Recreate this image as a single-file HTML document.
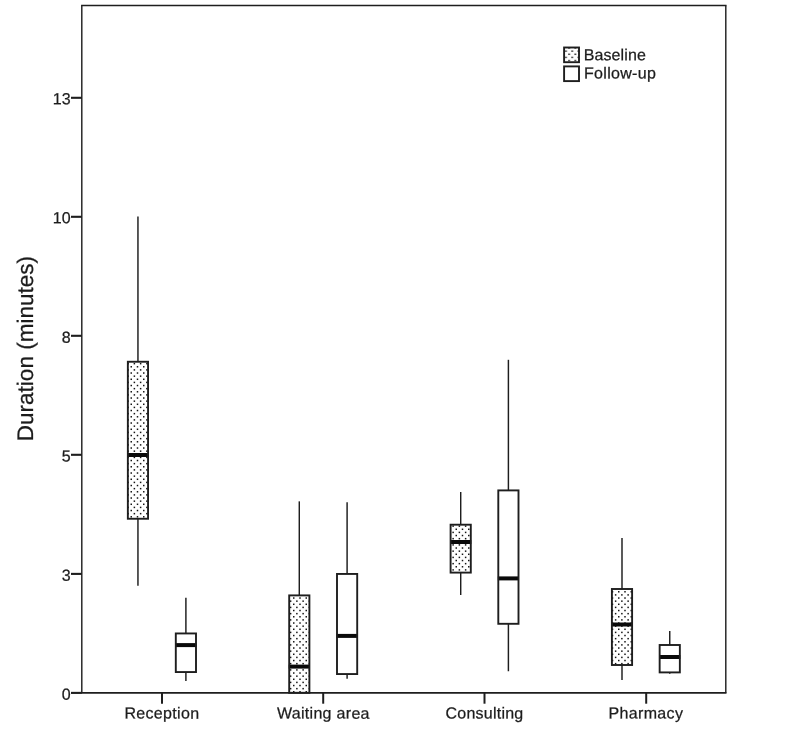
<!DOCTYPE html>
<html lang="en">
<head>
<meta charset="utf-8">
<title>Duration (minutes) by station: Baseline vs Follow-up</title>
<style>
html,body{margin:0;padding:0;background:#fff;}
body{width:800px;height:736px;overflow:hidden;}
svg{display:block;}
text{font-family:"Liberation Sans",sans-serif;fill:#1c1c1c;stroke:#1c1c1c;stroke-width:0.25px;text-rendering:geometricPrecision;}
</style>
</head>
<body>
<svg width="800" height="736" viewBox="0 0 800 736">
<defs>
<pattern id="dots" x="0" y="0" width="25" height="25" patternUnits="userSpaceOnUse">
<g fill="#151515"><rect x="-0.750" y="3.530" width="1.5" height="1.5"/><rect x="2.375" y="0.405" width="1.5" height="1.5"/><rect x="-0.750" y="9.780" width="1.5" height="1.5"/><rect x="2.375" y="6.655" width="1.5" height="1.5"/><rect x="-0.750" y="16.030" width="1.5" height="1.5"/><rect x="2.375" y="12.905" width="1.5" height="1.5"/><rect x="-0.750" y="22.280" width="1.5" height="1.5"/><rect x="2.375" y="19.155" width="1.5" height="1.5"/><rect x="5.500" y="3.530" width="1.5" height="1.5"/><rect x="8.625" y="0.405" width="1.5" height="1.5"/><rect x="5.500" y="9.780" width="1.5" height="1.5"/><rect x="8.625" y="6.655" width="1.5" height="1.5"/><rect x="5.500" y="16.030" width="1.5" height="1.5"/><rect x="8.625" y="12.905" width="1.5" height="1.5"/><rect x="5.500" y="22.280" width="1.5" height="1.5"/><rect x="8.625" y="19.155" width="1.5" height="1.5"/><rect x="11.750" y="3.530" width="1.5" height="1.5"/><rect x="14.875" y="0.405" width="1.5" height="1.5"/><rect x="11.750" y="9.780" width="1.5" height="1.5"/><rect x="14.875" y="6.655" width="1.5" height="1.5"/><rect x="11.750" y="16.030" width="1.5" height="1.5"/><rect x="14.875" y="12.905" width="1.5" height="1.5"/><rect x="11.750" y="22.280" width="1.5" height="1.5"/><rect x="14.875" y="19.155" width="1.5" height="1.5"/><rect x="18.000" y="3.530" width="1.5" height="1.5"/><rect x="21.125" y="0.405" width="1.5" height="1.5"/><rect x="18.000" y="9.780" width="1.5" height="1.5"/><rect x="21.125" y="6.655" width="1.5" height="1.5"/><rect x="18.000" y="16.030" width="1.5" height="1.5"/><rect x="21.125" y="12.905" width="1.5" height="1.5"/><rect x="18.000" y="22.280" width="1.5" height="1.5"/><rect x="21.125" y="19.155" width="1.5" height="1.5"/><rect x="24.250" y="3.530" width="1.5" height="1.5"/><rect x="24.250" y="9.780" width="1.5" height="1.5"/><rect x="24.250" y="16.030" width="1.5" height="1.5"/><rect x="24.250" y="22.280" width="1.5" height="1.5"/></g>
</pattern>
<pattern id="dotsL" x="0.35" y="0" width="25" height="25" patternUnits="userSpaceOnUse">
<g fill="#151515"><rect x="-0.750" y="3.530" width="1.5" height="1.5"/><rect x="2.375" y="0.405" width="1.5" height="1.5"/><rect x="-0.750" y="9.780" width="1.5" height="1.5"/><rect x="2.375" y="6.655" width="1.5" height="1.5"/><rect x="-0.750" y="16.030" width="1.5" height="1.5"/><rect x="2.375" y="12.905" width="1.5" height="1.5"/><rect x="-0.750" y="22.280" width="1.5" height="1.5"/><rect x="2.375" y="19.155" width="1.5" height="1.5"/><rect x="5.500" y="3.530" width="1.5" height="1.5"/><rect x="8.625" y="0.405" width="1.5" height="1.5"/><rect x="5.500" y="9.780" width="1.5" height="1.5"/><rect x="8.625" y="6.655" width="1.5" height="1.5"/><rect x="5.500" y="16.030" width="1.5" height="1.5"/><rect x="8.625" y="12.905" width="1.5" height="1.5"/><rect x="5.500" y="22.280" width="1.5" height="1.5"/><rect x="8.625" y="19.155" width="1.5" height="1.5"/><rect x="11.750" y="3.530" width="1.5" height="1.5"/><rect x="14.875" y="0.405" width="1.5" height="1.5"/><rect x="11.750" y="9.780" width="1.5" height="1.5"/><rect x="14.875" y="6.655" width="1.5" height="1.5"/><rect x="11.750" y="16.030" width="1.5" height="1.5"/><rect x="14.875" y="12.905" width="1.5" height="1.5"/><rect x="11.750" y="22.280" width="1.5" height="1.5"/><rect x="14.875" y="19.155" width="1.5" height="1.5"/><rect x="18.000" y="3.530" width="1.5" height="1.5"/><rect x="21.125" y="0.405" width="1.5" height="1.5"/><rect x="18.000" y="9.780" width="1.5" height="1.5"/><rect x="21.125" y="6.655" width="1.5" height="1.5"/><rect x="18.000" y="16.030" width="1.5" height="1.5"/><rect x="21.125" y="12.905" width="1.5" height="1.5"/><rect x="18.000" y="22.280" width="1.5" height="1.5"/><rect x="21.125" y="19.155" width="1.5" height="1.5"/><rect x="24.250" y="3.530" width="1.5" height="1.5"/><rect x="24.250" y="9.780" width="1.5" height="1.5"/><rect x="24.250" y="16.030" width="1.5" height="1.5"/><rect x="24.250" y="22.280" width="1.5" height="1.5"/></g>
</pattern>
</defs>
<rect x="0" y="0" width="800" height="736" fill="#ffffff"/>
<path d="M81.1 5.54H726.5M81.1 692.86H726.5" fill="none" stroke="#1e1e1e" stroke-width="1.62"/>
<path d="M81.8 5.54V692.86M725.8 5.54V692.86" fill="none" stroke="#1e1e1e" stroke-width="1.42"/>
<line x1="71" y1="692.9" x2="81.8" y2="692.9" stroke="#1e1e1e" stroke-width="2.1"/>
<text transform="translate(70.6,699.71) rotate(0.06)" font-size="16" text-anchor="end">0</text>
<line x1="71" y1="573.9" x2="81.8" y2="573.9" stroke="#1e1e1e" stroke-width="2.1"/>
<text transform="translate(70.6,580.70) rotate(0.06)" font-size="16" text-anchor="end">3</text>
<line x1="71" y1="454.8" x2="81.8" y2="454.8" stroke="#1e1e1e" stroke-width="2.1"/>
<text transform="translate(70.6,461.44) rotate(0.06)" font-size="16" text-anchor="end">5</text>
<line x1="71" y1="335.8" x2="81.8" y2="335.8" stroke="#1e1e1e" stroke-width="2.1"/>
<text transform="translate(70.6,342.68) rotate(0.06)" font-size="16" text-anchor="end">8</text>
<line x1="71" y1="216.8" x2="81.8" y2="216.8" stroke="#1e1e1e" stroke-width="2.1"/>
<text transform="translate(70.6,223.27) rotate(0.06)" font-size="16" text-anchor="end">10</text>
<line x1="71" y1="97.8" x2="81.8" y2="97.8" stroke="#1e1e1e" stroke-width="2.1"/>
<text transform="translate(70.6,104.21) rotate(0.06)" font-size="16" text-anchor="end">13</text>
<line x1="162.0" y1="692.86" x2="162.0" y2="703.7" stroke="#1e1e1e" stroke-width="2"/>
<text transform="translate(161.91,718.6) rotate(0.06)" font-size="16" letter-spacing="0.32" text-anchor="middle">Reception</text>
<line x1="323.2" y1="692.86" x2="323.2" y2="703.7" stroke="#1e1e1e" stroke-width="2"/>
<text transform="translate(323.35,718.6) rotate(0.06)" font-size="16" letter-spacing="0.31" text-anchor="middle">Waiting area</text>
<line x1="484.5" y1="692.86" x2="484.5" y2="703.7" stroke="#1e1e1e" stroke-width="2"/>
<text transform="translate(484.51,718.6) rotate(0.06)" font-size="16" letter-spacing="0.23" text-anchor="middle">Consulting</text>
<line x1="646.2" y1="692.86" x2="646.2" y2="703.7" stroke="#1e1e1e" stroke-width="2"/>
<text transform="translate(645.91,718.6) rotate(0.06)" font-size="16" letter-spacing="0.33" text-anchor="middle">Pharmacy</text>
<text transform="translate(33.3,348.6) rotate(-90)" font-size="22.5" letter-spacing="0.01" text-anchor="middle">Duration (minutes)</text>
<line x1="137.95" y1="216.6" x2="137.95" y2="361.75" stroke="#1e1e1e" stroke-width="1.46"/>
<line x1="137.95" y1="518.75" x2="137.95" y2="585.75" stroke="#1e1e1e" stroke-width="1.46"/>
<rect x="127.85" y="361.75" width="20.2" height="157.00" fill="#fff"/>
<rect x="127.85" y="361.75" width="20.2" height="157.00" fill="url(#dots)"/>
<line x1="127.35" y1="455.0" x2="148.55" y2="455.0" stroke="#0a0a0a" stroke-width="4"/>
<rect x="127.85" y="361.75" width="20.2" height="157.00" fill="none" stroke="#1e1e1e" stroke-width="1.9"/>
<line x1="185.9" y1="597.75" x2="185.9" y2="633.45" stroke="#1e1e1e" stroke-width="1.46"/>
<line x1="185.9" y1="672.05" x2="185.9" y2="681.0" stroke="#1e1e1e" stroke-width="1.46"/>
<rect x="175.80" y="633.45" width="20.2" height="38.60" fill="#fff"/>
<line x1="175.30" y1="645.1" x2="196.50" y2="645.1" stroke="#0a0a0a" stroke-width="4"/>
<rect x="175.80" y="633.45" width="20.2" height="38.60" fill="none" stroke="#1e1e1e" stroke-width="1.9"/>
<line x1="299.3" y1="501.35" x2="299.3" y2="595.4" stroke="#1e1e1e" stroke-width="1.46"/>
<rect x="289.20" y="595.4" width="20.2" height="97.40" fill="#fff"/>
<rect x="289.20" y="595.4" width="20.2" height="97.40" fill="url(#dots)"/>
<line x1="288.70" y1="666.6" x2="309.90" y2="666.6" stroke="#0a0a0a" stroke-width="4"/>
<rect x="289.20" y="595.4" width="20.2" height="97.40" fill="none" stroke="#1e1e1e" stroke-width="1.9"/>
<line x1="347.1" y1="502.2" x2="347.1" y2="573.95" stroke="#1e1e1e" stroke-width="1.46"/>
<line x1="347.1" y1="674.05" x2="347.1" y2="678.7" stroke="#1e1e1e" stroke-width="1.46"/>
<rect x="337.00" y="573.95" width="20.2" height="100.10" fill="#fff"/>
<line x1="336.50" y1="635.9" x2="357.70" y2="635.9" stroke="#0a0a0a" stroke-width="4"/>
<rect x="337.00" y="573.95" width="20.2" height="100.10" fill="none" stroke="#1e1e1e" stroke-width="1.9"/>
<line x1="460.7" y1="492.0" x2="460.7" y2="524.7" stroke="#1e1e1e" stroke-width="1.46"/>
<line x1="460.7" y1="572.6" x2="460.7" y2="595.0" stroke="#1e1e1e" stroke-width="1.46"/>
<rect x="450.60" y="524.7" width="20.2" height="47.90" fill="#fff"/>
<rect x="450.60" y="524.7" width="20.2" height="47.90" fill="url(#dots)"/>
<line x1="450.10" y1="542.0" x2="471.30" y2="542.0" stroke="#0a0a0a" stroke-width="4"/>
<rect x="450.60" y="524.7" width="20.2" height="47.90" fill="none" stroke="#1e1e1e" stroke-width="1.9"/>
<line x1="508.4" y1="359.8" x2="508.4" y2="490.4" stroke="#1e1e1e" stroke-width="1.46"/>
<line x1="508.4" y1="623.8" x2="508.4" y2="671.25" stroke="#1e1e1e" stroke-width="1.46"/>
<rect x="498.30" y="490.4" width="20.2" height="133.40" fill="#fff"/>
<line x1="497.80" y1="578.4" x2="519.00" y2="578.4" stroke="#0a0a0a" stroke-width="4"/>
<rect x="498.30" y="490.4" width="20.2" height="133.40" fill="none" stroke="#1e1e1e" stroke-width="1.9"/>
<line x1="622.0" y1="538.1" x2="622.0" y2="589.0" stroke="#1e1e1e" stroke-width="1.46"/>
<line x1="622.0" y1="665.0" x2="622.0" y2="679.9" stroke="#1e1e1e" stroke-width="1.46"/>
<rect x="611.90" y="589.0" width="20.2" height="76.00" fill="#fff"/>
<rect x="611.90" y="589.0" width="20.2" height="76.00" fill="url(#dots)"/>
<line x1="611.40" y1="624.5" x2="632.60" y2="624.5" stroke="#0a0a0a" stroke-width="4"/>
<rect x="611.90" y="589.0" width="20.2" height="76.00" fill="none" stroke="#1e1e1e" stroke-width="1.9"/>
<line x1="669.75" y1="631.0" x2="669.75" y2="645.0" stroke="#1e1e1e" stroke-width="1.46"/>
<line x1="669.75" y1="672.4" x2="669.75" y2="673.7" stroke="#1e1e1e" stroke-width="1.46"/>
<rect x="659.65" y="645.0" width="20.2" height="27.40" fill="#fff"/>
<line x1="659.15" y1="657.0" x2="680.35" y2="657.0" stroke="#0a0a0a" stroke-width="4"/>
<rect x="659.65" y="645.0" width="20.2" height="27.40" fill="none" stroke="#1e1e1e" stroke-width="1.9"/>
<rect x="564.1" y="47.5" width="14.9" height="14.7" fill="#fff"/>
<rect x="564.1" y="47.5" width="14.9" height="14.7" fill="url(#dotsL)" stroke="#1e1e1e" stroke-width="1.9"/>
<rect x="564.1" y="66.4" width="14.9" height="14.7" fill="#fff" stroke="#1e1e1e" stroke-width="1.9"/>
<text transform="translate(583.65,60.25) rotate(0.06)" font-size="16" letter-spacing="0.11">Baseline</text>
<text transform="translate(583.95,78.55) rotate(0.06)" font-size="16" letter-spacing="0.32">Follow-up</text>
</svg>
</body>
</html>
